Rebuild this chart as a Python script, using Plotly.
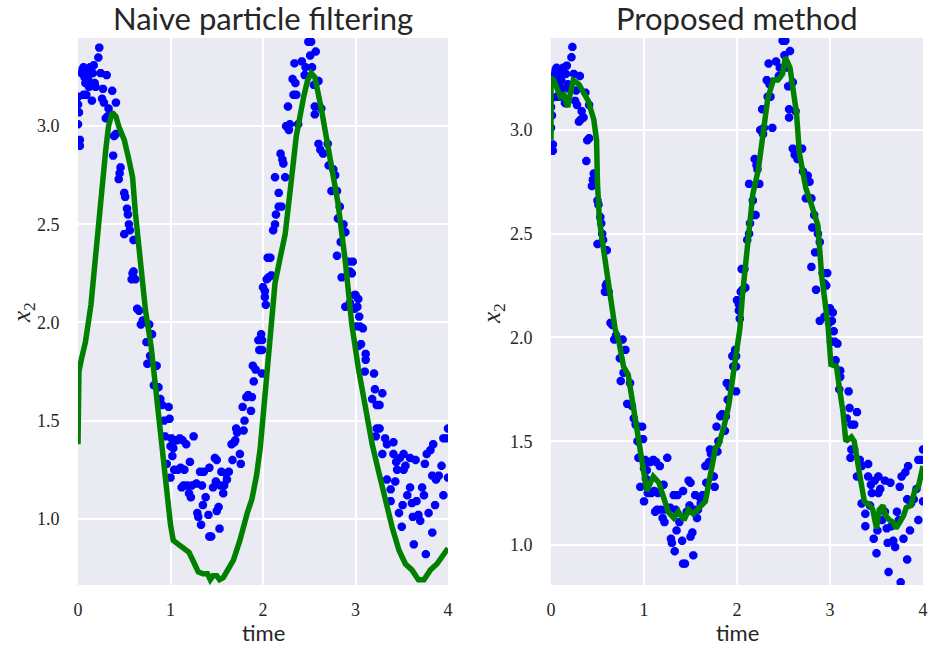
import plotly.graph_objects as go

# Observations (time, x2)
obs_t = [0.00,0.00,0.00,0.01,0.02,0.02,0.04,0.05,0.06,0.06,0.07,0.08,0.09,0.10,0.11,0.12,0.13,0.15,0.16,0.17,
         0.18,0.19,0.22,0.23,0.245,0.26,0.27,0.28,0.30,0.31,0.32,0.33,0.35,0.37,0.38,0.39,0.41,0.41,0.44,0.45,
         0.46,0.50,0.50,0.51,0.53,0.54,0.55,0.56,0.58,0.59,0.60,0.60,0.62,0.64,0.66,0.68,0.70,0.74,0.75,0.77,
         0.78,0.80,0.82,0.85,0.87,0.89,0.91,0.93,0.94,0.96,0.98,0.99,1.00,1.00,1.01,1.02,1.03,1.04,1.05,1.07,
         1.08,1.10,1.11,1.12,1.13,1.14,1.15,1.17,1.18,1.20,1.21,1.22,1.23,1.25,1.28,1.29,1.30,1.32,1.33,1.34,
         1.35,1.36,1.38,1.41,1.42,1.42,1.44,1.46,1.48,1.49,1.50,1.50,1.52,1.53,1.54,1.55,1.57,1.58,1.60,1.61,
         1.63,1.66,1.67,1.69,1.70,1.71,1.72,1.75,1.76,1.78,1.79,1.80,1.82,1.84,1.87,1.88,1.89,1.90,1.92,1.95,
         1.96,1.98,1.99,1.99,1.99,2.00,2.02,2.02,2.03,2.04,2.05,2.06,2.08,2.09,2.11,2.13,2.13,2.14,2.17,2.17,
         2.19,2.20,2.21,2.22,2.24,2.25,2.27,2.28,2.29,2.32,2.33,2.34,2.35,2.36,2.38,2.42,2.45,2.46,2.49,2.51,
         2.52,2.53,2.55,2.56,2.56,2.57,2.60,2.60,2.62,2.63,2.65,2.70,2.71,2.74,2.76,2.78,2.80,2.80,2.81,2.83,
         2.84,2.85,2.87,2.89,2.89,2.92,2.94,2.94,2.96,2.97,2.99,2.99,3.00,3.01,3.02,3.03,3.03,3.04,3.05,3.06,
         3.08,3.11,3.11,3.10,3.20,3.18,3.21,3.23,3.23,3.22,3.26,3.26,3.29,3.29,3.32,3.34,3.34,3.38,3.38,3.41,
         3.41,3.43,3.44,3.45,3.47,3.48,3.50,3.51,3.52,3.52,3.54,3.56,3.59,3.59,3.61,3.62,3.63,3.65,3.66,3.68,
         3.70,3.72,3.74,3.75,3.76,3.77,3.79,3.81,3.83,3.83,3.84,3.86,3.87,3.90,3.93,3.95,3.95,3.98,4.00,4.00]
obs_x2 = [3.01,3.11,3.15,3.07,2.93,2.90,3.27,3.29,3.16,3.30,3.25,3.22,3.16,3.28,3.24,3.20,3.30,3.13,3.27,3.31,
          3.22,3.20,3.35,3.40,3.27,3.14,3.19,3.12,3.04,3.26,3.05,3.09,3.06,3.18,2.85,2.95,3.12,2.96,2.73,2.76,
          2.79,2.66,2.45,2.64,2.58,2.55,2.50,2.47,2.22,2.25,2.42,2.26,2.22,2.07,2.06,1.99,2.01,1.90,1.79,1.99,
          1.83,1.94,1.68,1.78,1.67,1.61,1.58,1.50,1.42,1.28,1.57,1.51,1.37,1.21,1.41,1.32,1.36,1.25,1.40,1.40,
          1.25,1.41,1.26,1.16,1.40,1.17,1.25,1.38,1.17,1.13,1.29,1.11,1.17,1.42,1.18,1.03,1.01,1.24,0.97,1.17,
          1.07,1.24,1.11,1.02,1.26,0.91,0.91,1.16,1.31,1.19,1.04,1.30,1.06,0.95,1.17,1.24,1.13,1.17,1.23,1.20,
          1.24,1.38,1.30,1.39,1.40,1.46,1.44,1.33,1.28,1.57,1.45,1.50,1.62,1.63,1.55,1.62,1.78,1.70,1.76,1.91,
          1.86,1.94,1.86,1.74,1.91,2.18,2.16,2.13,2.09,2.22,2.33,2.23,2.33,2.24,2.47,2.50,2.74,2.55,2.59,2.66,
          2.86,2.59,2.83,2.81,2.74,3.00,3.10,2.98,3.01,3.24,3.16,3.32,3.22,3.16,3.01,3.33,3.26,3.30,3.43,3.36,
          3.43,3.30,3.21,3.10,3.06,3.38,3.23,2.91,2.88,3.09,2.86,2.91,2.80,2.67,2.78,2.75,2.67,2.34,2.53,2.59,
          2.41,2.23,2.50,2.46,2.08,2.31,2.26,2.10,2.25,2.31,2.14,2.07,2.14,1.98,2.08,2.12,1.88,2.03,1.98,1.89,
          1.97,1.84,1.81,1.75,1.74,1.61,1.66,1.58,1.46,1.42,1.58,1.46,1.64,1.33,1.41,1.38,1.20,1.15,1.09,1.39,
          1.33,1.19,1.29,1.25,1.03,1.31,0.96,1.07,1.33,1.25,1.27,1.12,1.31,1.16,1.08,1.01,0.87,1.30,1.09,1.02,
          0.99,1.16,1.12,1.28,0.82,1.33,1.03,1.35,1.22,0.93,1.38,1.07,1.20,1.22,1.27,1.41,1.12,1.41,1.21,1.46]

# Naive particle filter estimate
naive_t = [0.00,0.01,0.04,0.08,0.14,0.19,0.245,0.30,0.33,0.37,0.39,0.41,0.44,0.47,0.50,0.55,0.59,0.62,0.68,
           0.73,0.79,0.84,0.89,0.95,1.00,1.03,1.08,1.14,1.20,1.25,1.30,1.35,1.40,1.43,1.46,1.50,1.53,1.57,1.61,
           1.68,1.75,1.80,1.83,1.88,1.93,1.97,2.00,2.04,2.08,2.13,2.19,2.24,2.31,2.36,2.44,2.48,2.52,2.56,2.63,
           2.72,2.81,2.89,2.96,3.03,3.11,3.18,3.25,3.32,3.40,3.47,3.54,3.61,3.68,3.74,3.78,3.81,3.88,3.94,4.00]
naive_x2 = [1.38,1.75,1.82,1.90,2.09,2.34,2.65,2.88,3.00,3.07,3.06,3.05,3.00,2.97,2.93,2.83,2.74,2.56,2.31,
            2.06,1.88,1.66,1.43,1.18,0.97,0.89,0.87,0.85,0.83,0.78,0.73,0.72,0.72,0.69,0.71,0.71,0.69,0.70,0.73,
            0.79,0.89,0.99,1.03,1.10,1.22,1.36,1.52,1.75,2.00,2.20,2.34,2.45,2.74,2.95,3.15,3.23,3.27,3.25,3.09,
            2.86,2.61,2.31,1.99,1.77,1.56,1.38,1.24,1.09,0.95,0.84,0.77,0.74,0.69,0.69,0.72,0.74,0.77,0.81,0.85]

# Proposed method estimate
prop_t = [0.00,0.00,0.03,0.06,0.10,0.14,0.18,0.21,0.24,0.30,0.35,0.40,0.46,0.49,0.50,0.52,0.55,0.58,0.62,
          0.66,0.69,0.73,0.78,0.83,0.87,0.92,0.96,1.00,1.03,1.07,1.10,1.16,1.21,1.26,1.32,1.37,1.43,1.48,1.53,
          1.59,1.66,1.71,1.77,1.80,1.86,1.91,1.95,1.99,2.03,2.06,2.10,2.14,2.17,2.23,2.28,2.33,2.39,2.44,2.49,
          2.52,2.57,2.60,2.64,2.67,2.69,2.74,2.80,2.83,2.87,2.91,2.94,2.98,3.01,3.07,3.10,3.14,3.17,3.23,3.26,
          3.30,3.33,3.37,3.43,3.46,3.50,3.53,3.57,3.60,3.64,3.68,3.71,3.75,3.79,3.82,3.87,3.91,3.95,4.00]
prop_x2 = [2.95,3.25,3.24,3.21,3.16,3.17,3.11,3.18,3.24,3.22,3.18,3.14,3.05,2.95,2.74,2.57,2.47,2.37,2.27,
           2.13,2.04,1.98,1.86,1.82,1.70,1.59,1.47,1.35,1.26,1.30,1.33,1.30,1.23,1.16,1.13,1.16,1.12,1.17,1.15,
           1.18,1.21,1.33,1.47,1.48,1.57,1.67,1.78,1.90,2.04,2.21,2.38,2.61,2.69,2.81,2.98,3.15,3.24,3.24,3.27,
           3.35,3.30,3.22,3.08,2.89,2.83,2.72,2.64,2.59,2.54,2.30,2.20,2.05,1.87,1.86,1.76,1.64,1.50,1.52,1.50,
           1.41,1.31,1.21,1.19,1.17,1.08,1.17,1.19,1.14,1.12,1.11,1.08,1.11,1.14,1.18,1.19,1.26,1.28,1.38]

ytick_vals = [1.0, 1.5, 2.0, 2.5, 3.0]
ytick_text = ["1.0", "1.5", "2.0", "2.5", "3.0"]
xtick_vals = [0, 1, 2, 3, 4]
xtick_text = ["0", "1", "2", "3", "4"]

BLUE = "#0000FF"
GREEN = "#008000"
BG = "#EAEAF2"
TXT = "#262626"
SERIF = "Liberation Serif, DejaVu Serif, serif"
SANS = "Lato, DejaVu Sans, sans-serif"

W, H = 929, 650
fig = go.Figure()

panels = [("x", "y", naive_t, naive_x2),
          ("x2", "y2", prop_t, prop_x2)]
for xa, ya, lt, lv in panels:
    fig.add_trace(go.Scatter(x=obs_t, y=obs_x2, mode="markers", xaxis=xa, yaxis=ya,
                             marker=dict(symbol="asterisk-open", size=7, color=BLUE,
                                         line=dict(color=BLUE, width=3.0)),
                             showlegend=False))
    fig.add_trace(go.Scatter(x=lt, y=lv, mode="lines", xaxis=xa, yaxis=ya,
                             line=dict(color=GREEN, width=5.5), showlegend=False))

axis_common = dict(showgrid=True, gridcolor="white", gridwidth=1.6, zeroline=False,
                   showline=False, ticks="outside", tickcolor="rgba(0,0,0,0)",
                   automargin=False, ticklabeloverflow="allow",
                   tickfont=dict(family=SERIF, size=18, color=TXT))

ydom = [1 - 585/H, 1 - 38/H]
fig.update_layout(
    width=W, height=H,
    margin=dict(l=0, r=0, t=0, b=0),
    paper_bgcolor="white",
    plot_bgcolor=BG,
    xaxis=dict(domain=[78/W, 448/W], range=[0, 4], tickvals=xtick_vals, ticktext=xtick_text,
               ticklen=8, anchor="y", **axis_common),
    yaxis=dict(domain=ydom, range=[0.663, 3.449], tickvals=ytick_vals, ticktext=ytick_text,
               ticklen=14, anchor="x", **axis_common),
    xaxis2=dict(domain=[551/W, 923/W], range=[0, 4], tickvals=xtick_vals, ticktext=xtick_text,
                ticklen=8, anchor="y2", **axis_common),
    yaxis2=dict(domain=ydom, range=[0.807, 3.443], tickvals=ytick_vals, ticktext=ytick_text,
                ticklen=14, anchor="x2", **axis_common),
)

def ann(text, cx, cy, font, angle=0):
    fig.add_annotation(text=text, x=cx / W, y=1 - cy / H, xref="paper", yref="paper",
                       showarrow=False, xanchor="center", yanchor="middle",
                       textangle=angle, font=font)

title_font = dict(family=SANS, size=31, color=TXT)
xlab_font = dict(family=SANS, size=22, color=TXT)
ylab_font = dict(family=SERIF, size=25, color=TXT)

ann("Naive particle filtering", 263, 18, title_font)
ann("Proposed method", 737, 18, title_font)
ann("time", 263, 632, xlab_font)
ann("time", 737, 632, xlab_font)
ann("<i>x</i><sub>2</sub>", 24, 313, ylab_font, -90)
ann("<i>x</i><sub>2</sub>", 494, 313, ylab_font, -90)

fig.write_html("out.html",
               config={"displayModeBar": False},
               post_script="document.body.style.margin='0';document.body.style.padding='0';"
                           "document.documentElement.style.overflow='hidden';")
